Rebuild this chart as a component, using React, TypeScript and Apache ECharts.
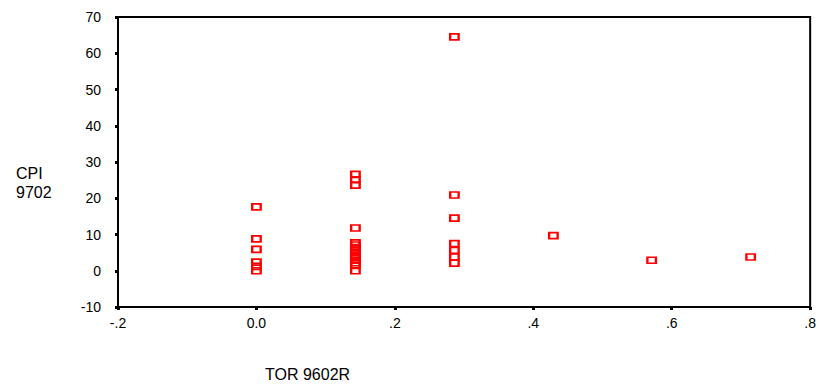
import React, { useEffect, useRef } from "react";
import * as echarts from "echarts";

// TOR 9602R levels (x) and CPI 9702 values (y)
const torLevel0 = 0;
const cpiAtLevel0 = [17.6, 8.8, 5.9, 2.4, 1.2, 0];
const torLevel1 = 0.143;
const cpiAtLevel1 = [26.6, 25.1, 23.6, 11.8, 7.7, 7.1, 6.4, 5.7, 5.0, 4.3, 3.6, 2.9, 2.2, 1.5, 0];
const torLevel2 = 0.286;
const cpiAtLevel2 = [64.5, 20.9, 14.5, 7.5, 5.6, 3.8, 2.1];
const torLevel3 = 0.429;
const cpiAtLevel3 = [9.7];
const torLevel4 = 0.571;
const cpiAtLevel4 = [2.9];
const torLevel5 = 0.714;
const cpiAtLevel5 = [3.8];

const xAxisTitle = "TOR 9602R";
const yAxisTitle = ["CPI", "9702"];

const groups: [number, number[]][] = [
  [torLevel0, cpiAtLevel0],
  [torLevel1, cpiAtLevel1],
  [torLevel2, cpiAtLevel2],
  [torLevel3, cpiAtLevel3],
  [torLevel4, cpiAtLevel4],
  [torLevel5, cpiAtLevel5],
];

const FONT = "'Liberation Sans', Arial, sans-serif";

function fmtX(v: number): string {
  if (Math.abs(v) < 1e-9) return "0.0";
  return v.toFixed(1).replace(/^(-?)0\./, "$1.");
}

export default function App() {
  const ref = useRef<HTMLDivElement>(null);
  useEffect(() => {
    if (!ref.current) return;
    const chart = echarts.init(ref.current, null, { renderer: "svg" });
    const data: number[][] = [];
    groups.forEach(([x, ys]) => ys.forEach((y) => data.push([x, y])));
    chart.setOption({
      animation: false,
      backgroundColor: "#fff",
      grid: {
        left: 118,
        right: 6,
        top: 17,
        bottom: 80,
        show: true,
        borderColor: "#000",
        borderWidth: 2,
        backgroundColor: "transparent",
      },
      xAxis: {
        type: "value",
        min: -0.2,
        max: 0.8,
        interval: 0.2,
        axisLine: { show: true, onZero: false, lineStyle: { color: "#000", width: 2 } },
        axisTick: { show: true, length: 3, inside: false, lineStyle: { color: "#000", width: 3 } },
        splitLine: { show: false },
        axisLabel: {
          color: "#000",
          fontFamily: FONT,
          fontSize: 14,
          margin: 9,
          formatter: fmtX,
        },
      },
      yAxis: {
        type: "value",
        min: -10,
        max: 70,
        interval: 10,
        axisLine: { show: true, onZero: false, lineStyle: { color: "#000", width: 2 } },
        axisTick: { show: true, length: 3, inside: false, lineStyle: { color: "#000", width: 3 } },
        splitLine: { show: false },
        axisLabel: {
          color: "#000",
          fontFamily: FONT,
          fontSize: 14,
          margin: 17,
        },
      },
      graphic: [
        {
          type: "text",
          left: 16,
          top: 164,
          style: {
            text: yAxisTitle.join("\n"),
            fill: "#000",
            font: `16px ${FONT}`,
            lineHeight: 19,
          },
        },
        {
          type: "text",
          left: 265,
          top: 366,
          style: {
            text: xAxisTitle,
            fill: "#000",
            font: `16px ${FONT}`,
          },
        },
      ],
      series: [
        {
          type: "scatter",
          data,
          symbol: "rect",
          symbolSize: [8.5, 6],
          itemStyle: {
            color: "transparent",
            borderColor: "#ff0000",
            borderWidth: 2,
            opacity: 1,
          },
          emphasis: { disabled: true },
        },
      ],
    });
    return () => chart.dispose();
  }, []);
  return (
    <div
      ref={ref}
      style={{ position: "fixed", left: 0, top: 0, width: 819, height: 387, background: "#fff" }}
    />
  );
}
